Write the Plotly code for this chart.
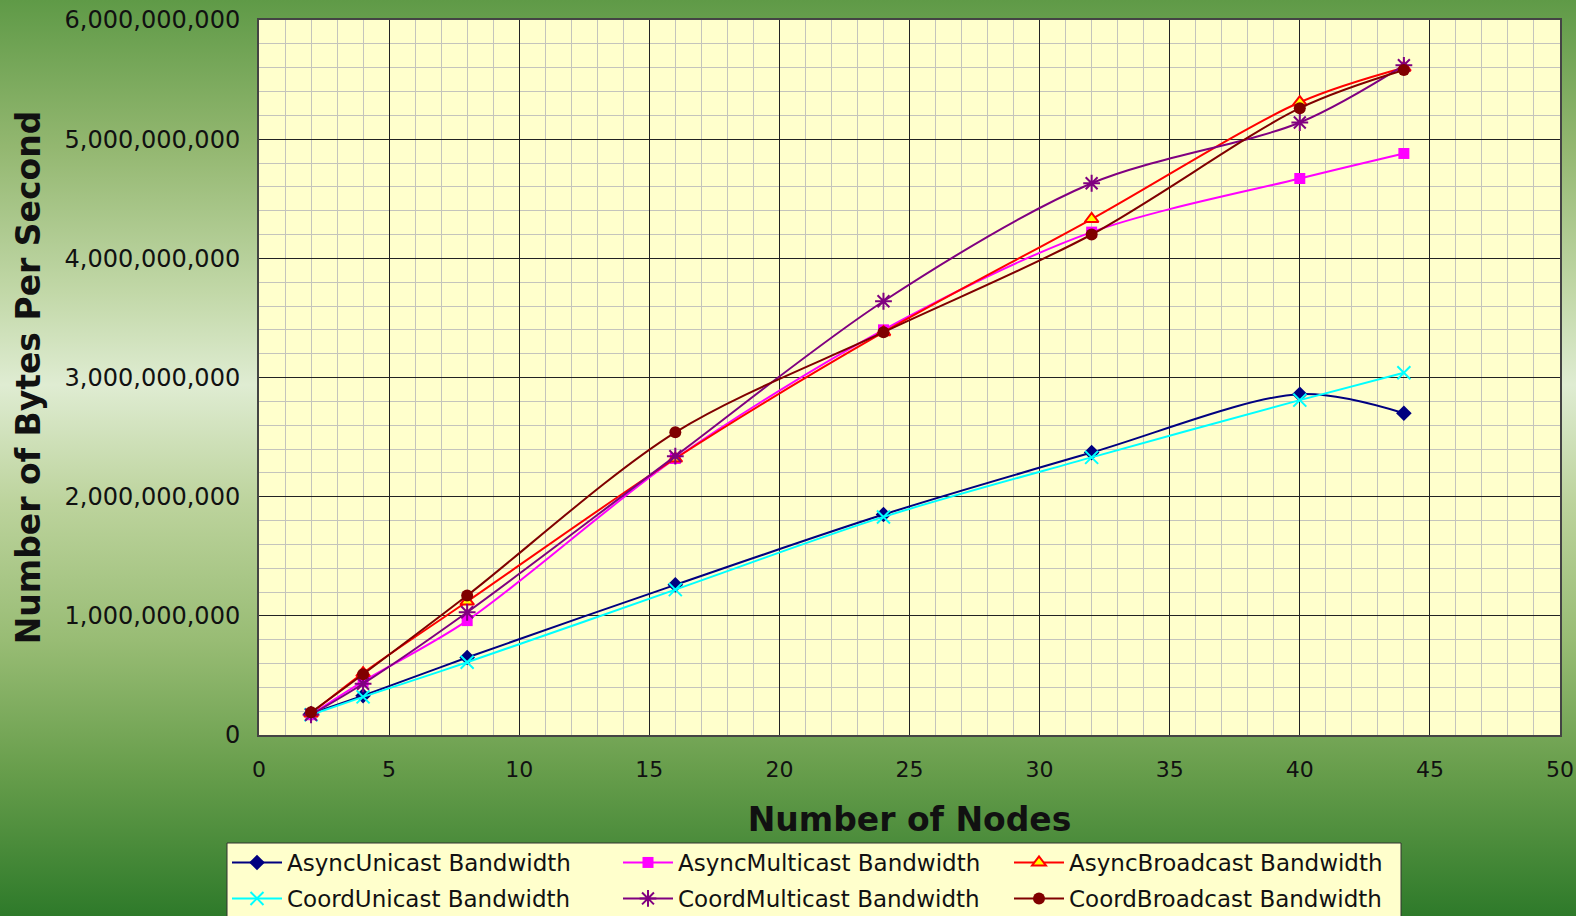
import base64
import plotly.graph_objects as go

nodes = [2, 4, 8, 16, 24, 32, 40, 44]

async_unicast = [0.18e9, 0.33e9, 0.65e9, 1.26e9, 1.85e9, 2.37e9, 2.86e9, 2.70e9]
async_multicast = [0.17e9, 0.45e9, 0.96e9, 2.32e9, 3.40e9, 4.22e9, 4.67e9, 4.88e9]
async_broadcast = [0.18e9, 0.52e9, 1.12e9, 2.32e9, 3.38e9, 4.33e9, 5.31e9, 5.60e9]
coord_unicast = [0.17e9, 0.32e9, 0.61e9, 1.22e9, 1.83e9, 2.33e9, 2.81e9, 3.04e9]
coord_multicast = [0.17e9, 0.43e9, 1.03e9, 2.34e9, 3.64e9, 4.63e9, 5.14e9, 5.62e9]
coord_broadcast = [0.19e9, 0.51e9, 1.17e9, 2.54e9, 3.38e9, 4.20e9, 5.26e9, 5.58e9]

series_names = [
    "AsyncUnicast Bandwidth", "AsyncMulticast Bandwidth", "AsyncBroadcast Bandwidth",
    "CoordUnicast Bandwidth", "CoordMulticast Bandwidth", "CoordBroadcast Bandwidth",
]
series_values = [async_unicast, async_multicast, async_broadcast,
                 coord_unicast, coord_multicast, coord_broadcast]
line_colors = ["#000080", "#FF00FF", "#FF0000", "#00FFFF", "#800080", "#800000"]
marker_fill = ["#000080", "#FF00FF", "#FFFF00", "#00FFFF", "#800080", "#800000"]
marker_symbols = ["diamond", "square", "triangle-up", "x-thin-open", "asterisk-open", "circle"]
marker_sizes = [12, 11, 12, 13, 14, 12]
marker_line_w = [0, 0, 2, 2, 2, 0]
legend_ids = ["legend", "legend", "legend", "legend2", "legend2", "legend2"]

FONT = "DejaVu Sans"
W, H = 1576, 916
L, R, T, B = 259, 1560, 20, 735
PW, PH = R - L, B - T

fig = go.Figure()
for name, vals, lc, mf, sym, ms, mlw, lg in zip(series_names, series_values, line_colors,
                                                marker_fill, marker_symbols, marker_sizes,
                                                marker_line_w, legend_ids):
    fig.add_trace(go.Scatter(
        x=nodes, y=vals, name=name, mode="lines+markers", legend=lg,
        line=dict(color=lc, width=2, shape="spline", smoothing=0.9),
        marker=dict(symbol=sym, size=ms, color=mf, line=dict(color=lc, width=mlw)),
    ))

svg = f'''<svg xmlns="http://www.w3.org/2000/svg" width="{W}" height="{H}" preserveAspectRatio="none">
<defs><linearGradient id="g" x1="0" y1="0" x2="0" y2="1">
<stop offset="0" stop-color="#5F9A47"/>
<stop offset="0.16" stop-color="#93B770"/>
<stop offset="0.32" stop-color="#C2D8A8"/>
<stop offset="0.42" stop-color="#DFECD2"/>
<stop offset="0.55" stop-color="#BCD39C"/>
<stop offset="0.70" stop-color="#98BC74"/>
<stop offset="0.84" stop-color="#689E4C"/>
<stop offset="1" stop-color="#2E7A2A"/>
</linearGradient></defs>
<rect width="{W}" height="{H}" fill="url(#g)"/></svg>'''
src = "data:image/svg+xml;base64," + base64.b64encode(svg.encode()).decode()

def py(pixel_y):
    return (B - pixel_y) / PH

def px(pixel_x):
    return (pixel_x - L) / PW

legend_common = dict(
    orientation="h", xanchor="left", yanchor="top",
    bgcolor="rgba(0,0,0,0)", borderwidth=0,
    font=dict(family=FONT, size=23, color="#111111"),
    entrywidth=326, entrywidthmode="pixels", itemwidth=50, traceorder="normal",
)

fig.update_layout(
    width=W, height=H,
    margin=dict(l=L, r=W - R, t=T, b=H - B, autoexpand=False),
    paper_bgcolor="#8FB56E",
    plot_bgcolor="#FFFFCC",
    font=dict(family=FONT, size=23, color="#111111"),
    showlegend=True,
    images=[dict(source=src, xref="paper", yref="paper", x=-L / PW, y=1 + T / PH,
                 sizex=W / PW, sizey=H / PH, xanchor="left", yanchor="top",
                 sizing="stretch", layer="below")],
    shapes=[
        dict(type="rect", xref="x domain", yref="y domain", x0=0, x1=1, y0=0, y1=1,
             fillcolor="#FFFFCC", line=dict(width=0), layer="below"),
        dict(type="rect", xref="paper", yref="paper", x0=px(227), x1=px(1401),
             y0=py(843), y1=py(925), fillcolor="#FFFFCC",
             line=dict(color="#333333", width=1), layer="above"),
    ],
    legend=dict(x=px(227), y=py(841), **legend_common),
    legend2=dict(x=px(227), y=py(877), **legend_common),
    xaxis=dict(
        range=[0, 50], dtick=5, tick0=0,
        showgrid=True, gridcolor="#222222", gridwidth=1,
        minor=dict(dtick=1, showgrid=True, gridcolor="#C4C4BC", gridwidth=1),
        showline=True, linecolor="#444444", linewidth=2, mirror=True,
        zeroline=False, ticks="", ticklabelstandoff=14,
        tickfont=dict(family=FONT, size=22),
        title=dict(text="<b>Number of Nodes</b>", font=dict(family=FONT, size=33), standoff=26),
    ),
    yaxis=dict(
        range=[0, 6e9], dtick=1e9, tick0=0, tickformat=",d",
        showgrid=True, gridcolor="#222222", gridwidth=1,
        minor=dict(dtick=2e8, showgrid=True, gridcolor="#C4C4BC", gridwidth=1),
        showline=True, linecolor="#444444", linewidth=2, mirror=True,
        zeroline=False, ticks="", ticklabelstandoff=12,
        tickfont=dict(family=FONT, size=24),
        title=dict(text="<b>Number of Bytes Per Second</b>", font=dict(family=FONT, size=33), standoff=14),
    ),
)

fig.write_html("out.html", config={"displayModeBar": False},
               post_script="document.body.style.margin='0';document.body.style.overflow='hidden';")
